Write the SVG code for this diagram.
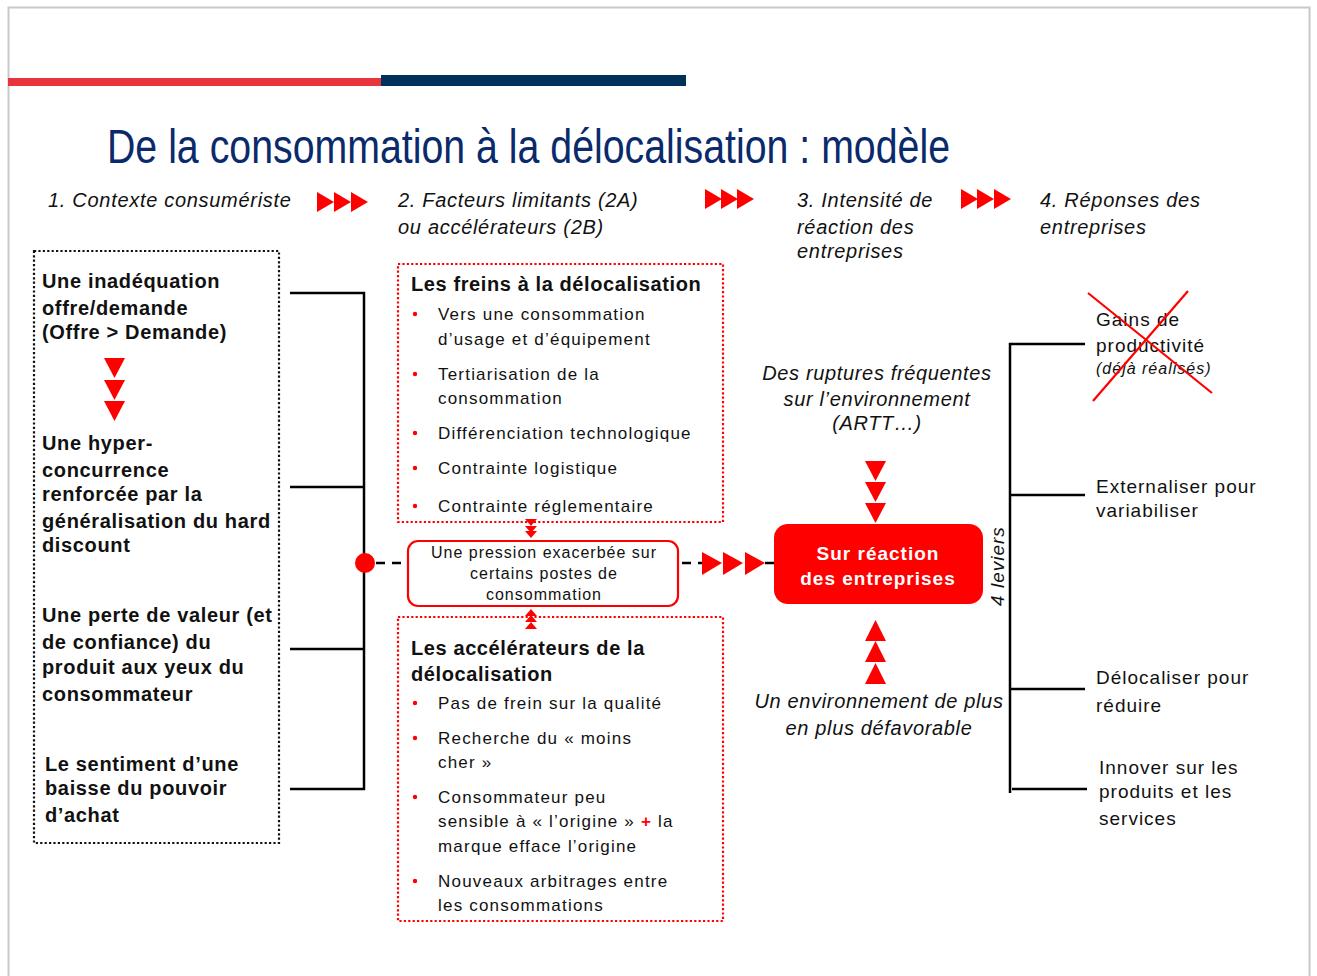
<svg xmlns="http://www.w3.org/2000/svg" width="1317" height="976" viewBox="0 0 1317 976">
<defs>
<style>
text{font-family:"Liberation Sans",Arial,sans-serif;fill:#111}
.hd{font-size:20px;font-style:italic;letter-spacing:0.7px}
.lb{font-size:20px;font-weight:bold;letter-spacing:0.65px}
.bx{font-size:17px;letter-spacing:1.2px}
.pb{font-size:16px;letter-spacing:1px}
.bt{font-size:20px;font-weight:bold;letter-spacing:0.6px}
.rt{font-size:19px;letter-spacing:1px}
.it{font-size:20px;font-style:italic;letter-spacing:0.65px}
.dot{fill:#ff0000}
.tri{fill:#ff0000}
.ln{stroke:#000;stroke-width:2.5;fill:none}
</style>
<g id="tR"><polygon class="tri" points="0,0 17,10 0,20"/></g>
<g id="tD"><polygon class="tri" points="0,0 21,0 10.5,20"/></g>
<g id="tU"><polygon class="tri" points="0,21 21,21 10.5,0"/></g>
</defs>
<rect x="0" y="0" width="1317" height="976" fill="#fff"/>
<rect x="8.5" y="7.5" width="1301" height="975" fill="none" stroke="#c8c8c8" stroke-width="2"/>
<rect x="8" y="78" width="373" height="8" fill="#e8343c"/>
<rect x="381" y="75" width="305" height="11" fill="#00315a"/>
<text x="107" y="163" font-size="48" style="fill:#0a2a6b" textLength="843" lengthAdjust="spacingAndGlyphs">De la consommation à la délocalisation : modèle</text>

<g id="headers">
<text class="hd" x="48" y="207">1. Contexte consumériste</text>
<text class="hd" x="398" y="207">2. Facteurs limitants (2A)</text>
<text class="hd" x="398" y="234">ou accélérateurs (2B)</text>
<text class="hd" x="797" y="207">3. Intensité de</text>
<text class="hd" x="797" y="234">réaction des</text>
<text class="hd" x="797" y="258">entreprises</text>
<text class="hd" x="1040" y="207">4. Réponses des</text>
<text class="hd" x="1040" y="234">entreprises</text>
<use href="#tR" x="317" y="192"/><use href="#tR" x="334" y="192"/><use href="#tR" x="351" y="192"/>
<use href="#tR" x="705" y="189"/><use href="#tR" x="721" y="189"/><use href="#tR" x="737" y="189"/>
<use href="#tR" x="961" y="189"/><use href="#tR" x="977" y="189"/><use href="#tR" x="994" y="189"/>
</g>

<g id="contexte">
<rect x="34" y="251" width="245" height="592" fill="none" stroke="#111" stroke-width="2.2" stroke-dasharray="2.2,2.2"/>
<text class="lb" x="42" y="288">Une inadéquation</text>
<text class="lb" x="42" y="315">offre/demande</text>
<text class="lb" x="42" y="339">(Offre &gt; Demande)</text>
<use href="#tD" x="104" y="358"/><use href="#tD" x="104" y="380"/><use href="#tD" x="104" y="401"/>
<text class="lb" x="42" y="450">Une hyper-</text>
<text class="lb" x="42" y="477">concurrence</text>
<text class="lb" x="42" y="501">renforcée par la</text>
<text class="lb" x="42" y="528">généralisation du hard</text>
<text class="lb" x="42" y="552">discount</text>
<text class="lb" x="42" y="622">Une perte de valeur (et</text>
<text class="lb" x="42" y="649">de confiance) du</text>
<text class="lb" x="42" y="674">produit aux yeux du</text>
<text class="lb" x="42" y="701">consommateur</text>
<text class="lb" x="45" y="771">Le sentiment d’une</text>
<text class="lb" x="45" y="795">baisse du pouvoir</text>
<text class="lb" x="45" y="822">d’achat</text>
</g>

<g id="freins">
<rect x="398" y="264" width="325" height="258" fill="none" stroke="#ff0000" stroke-width="2.2" stroke-dasharray="2.2,2.2"/>
<text class="bt" x="411" y="291">Les freins à la délocalisation</text>
<circle class="dot" cx="415" cy="314" r="2.2"/>
<text class="bx" x="438" y="320">Vers une consommation</text>
<text class="bx" x="438" y="345">d’usage et d’équipement</text>
<circle class="dot" cx="415" cy="374" r="2.2"/>
<text class="bx" x="438" y="380">Tertiarisation de la</text>
<text class="bx" x="438" y="404">consommation</text>
<circle class="dot" cx="415" cy="433" r="2.2"/>
<text class="bx" x="438" y="439">Différenciation technologique</text>
<circle class="dot" cx="415" cy="468" r="2.2"/>
<text class="bx" x="438" y="474">Contrainte logistique</text>
<circle class="dot" cx="415" cy="506" r="2.2"/>
<text class="bx" x="438" y="512">Contrainte réglementaire</text>
</g>

<g id="accelerateurs">
<rect x="398" y="617" width="325" height="304" fill="none" stroke="#ff0000" stroke-width="2.2" stroke-dasharray="2.2,2.2"/>
<text class="bt" x="411" y="655">Les accélérateurs de la</text>
<text class="bt" x="411" y="681">délocalisation</text>
<circle class="dot" cx="415" cy="703" r="2.2"/>
<text class="bx" x="438" y="709">Pas de frein sur la qualité</text>
<circle class="dot" cx="415" cy="738" r="2.2"/>
<text class="bx" x="438" y="744">Recherche du « moins</text>
<text class="bx" x="438" y="768">cher »</text>
<circle class="dot" cx="415" cy="797" r="2.2"/>
<text class="bx" x="438" y="803">Consommateur peu</text>
<text class="bx" x="438" y="827">sensible à « l’origine » <tspan style="fill:#ff0000;font-weight:bold">+</tspan> la</text>
<text class="bx" x="438" y="852">marque efface l’origine</text>
<circle class="dot" cx="415" cy="881" r="2.2"/>
<text class="bx" x="438" y="887">Nouveaux arbitrages entre</text>
<text class="bx" x="438" y="911">les consommations</text>
</g>

<g id="pression">
<rect x="408" y="541" width="270" height="65" rx="10" fill="#fff" stroke="#ff0000" stroke-width="2.2"/>
<text class="pb" x="544" y="558" text-anchor="middle">Une pression exacerbée sur</text>
<text class="pb" x="544" y="579" text-anchor="middle">certains postes de</text>
<text class="pb" x="544" y="600" text-anchor="middle">consommation</text>
</g>

<g id="surreaction">
<rect x="774" y="524" width="209" height="80" rx="14" fill="#ff0000"/>
<text x="878" y="560" text-anchor="middle" style="fill:#fff;font-size:19px;font-weight:bold;letter-spacing:1px">Sur réaction</text>
<text x="878" y="585" text-anchor="middle" style="fill:#fff;font-size:19px;font-weight:bold;letter-spacing:1px">des entreprises</text>
</g>

<g id="environnement">
<text class="it" x="877" y="380" text-anchor="middle">Des ruptures fréquentes</text>
<text class="it" x="877" y="406" text-anchor="middle">sur l’environnement</text>
<text class="it" x="877" y="430" text-anchor="middle">(ARTT…)</text>
<use href="#tD" x="865" y="461"/><use href="#tD" x="865" y="482"/><use href="#tD" x="865" y="503"/>
<use href="#tU" x="865" y="620"/><use href="#tU" x="865" y="641"/><use href="#tU" x="865" y="663"/>
<text class="it" x="879" y="708" text-anchor="middle">Un environnement de plus</text>
<text class="it" x="879" y="735" text-anchor="middle">en plus défavorable</text>
<text class="it" transform="translate(1004,566) rotate(-90)" text-anchor="middle" style="font-size:19px;letter-spacing:1px">4 leviers</text>
</g>

<g id="reponses">
<text class="rt" x="1096" y="326">Gains de</text>
<text class="rt" x="1096" y="352">productivité</text>
<text x="1096" y="374" style="font-size:16px;font-style:italic;letter-spacing:1px">(déjà réalisés)</text>
<line x1="1088" y1="293" x2="1212" y2="393" stroke="#ff0000" stroke-width="2.2"/>
<line x1="1188" y1="291" x2="1093" y2="401" stroke="#ff0000" stroke-width="2.2"/>
<text class="rt" x="1096" y="493">Externaliser pour</text>
<text class="rt" x="1096" y="517">variabiliser</text>
<text class="rt" x="1096" y="684">Délocaliser pour</text>
<text class="rt" x="1096" y="712">réduire</text>
<text class="rt" x="1099" y="774">Innover sur les</text>
<text class="rt" x="1099" y="798">produits et les</text>
<text class="rt" x="1099" y="825">services</text>
</g>

<g id="connectors">
<polyline class="ln" points="290,293 364,293 364,789 290,789"/>
<line class="ln" x1="290" y1="487" x2="364" y2="487"/>
<line class="ln" x1="290" y1="649" x2="364" y2="649"/>
<circle cx="365" cy="563" r="10" fill="#ff0000"/>
<line class="ln" x1="376" y1="563" x2="407" y2="563" stroke-dasharray="9,7"/>
<line class="ln" x1="682" y1="563" x2="702" y2="563" stroke-dasharray="9,7"/>
<line class="ln" x1="765" y1="563" x2="774" y2="563"/>
<polygon class="tri" points="702,552 722,563 702,575"/>
<polygon class="tri" points="723,552 743,563 723,575"/>
<polygon class="tri" points="745,552 765,563 745,575"/>
<polygon class="tri" points="525,519 537,519 531,526"/>
<polygon class="tri" points="525,526 537,526 531,533"/>
<polygon class="tri" points="525,531 537,531 531,538"/>
<polygon class="tri" points="525,616 537,616 531,609"/>
<polygon class="tri" points="525,622 537,622 531,615"/>
<polygon class="tri" points="525,629 537,629 531,622"/>
<polyline class="ln" points="1085,344 1010,344 1010,793"/>
<line class="ln" x1="1010" y1="495" x2="1085" y2="495"/>
<line class="ln" x1="1010" y1="689" x2="1085" y2="689"/>
<line class="ln" x1="1012" y1="789" x2="1087" y2="789"/>
</g>
</svg>
